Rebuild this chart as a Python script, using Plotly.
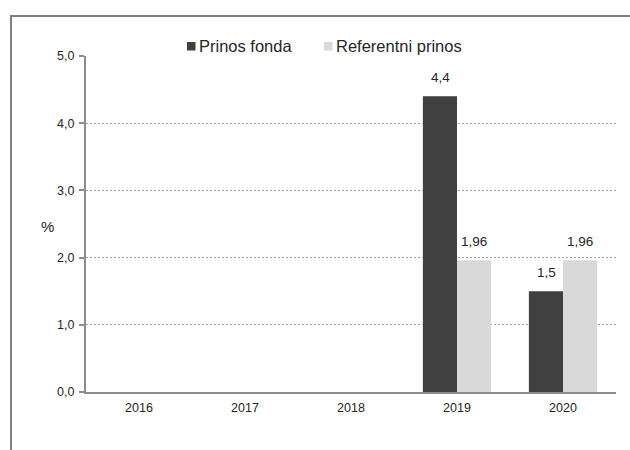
import plotly.graph_objects as go

years = ["2016", "2017", "2018", "2019", "2020"]
prinos_fonda = [None, None, None, 4.4, 1.5]
referentni_prinos = [None, None, None, 1.96, 1.96]
series_names = ["Prinos fonda", "Referentni prinos"]
series_colors = ["#404040", "#d9d9d9"]
y_ticks = [0, 1, 2, 3, 4, 5]

FONT = "Liberation Sans, Arial, sans-serif"
TXT = "#262626"

def lab(v):
    return str(v).replace(".", ",")

fig = go.Figure()
for name, vals, col in zip(series_names, [prinos_fonda, referentni_prinos], series_colors):
    fig.add_trace(go.Bar(x=years, y=vals, name=name,
                         marker=dict(color=col, line=dict(width=0)),
                         showlegend=False, hoverinfo="skip"))

L, R, T, B = 86, 14, 56, 58
W, H = 630, 450
pw, ph = W - L - R, H - T - B

def px(x):
    return (x - L) / pw

def py(y):
    return (H - B - y) / ph

fig.update_layout(
    width=W, height=H,
    margin=dict(l=L, r=R, t=T, b=B),
    paper_bgcolor="white", plot_bgcolor="white",
    separators=",.",
    barmode="group", bargap=0.356, bargroupgap=0,
    font=dict(family=FONT, size=12, color=TXT),
    showlegend=False,
)
fig.update_xaxes(type="category", categoryorder="array", categoryarray=years,
                 showgrid=False, showline=True, linecolor="#8c8c8c", linewidth=2,
                 ticks="", ticklabelstandoff=3,
                 tickfont=dict(size=12.5, family=FONT, color=TXT))
fig.update_yaxes(range=[0, 5], tickvals=y_ticks, tickformat=".1f",
                 showgrid=True, gridcolor="#a6a6a6", griddash="2px,2px", gridwidth=1,
                 showline=True, linecolor="#8c8c8c", linewidth=2,
                 ticks="outside", ticklen=5, tickcolor="#8c8c8c", tickwidth=2,
                 ticklabelstandoff=2,
                 tickfont=dict(size=12.5, family=FONT, color=TXT),
                 zeroline=False)

# data labels above bars (raised like in the reference); category axis uses serial index
offsets = [-17, 17]
for vals, dx in zip([prinos_fonda, referentni_prinos], offsets):
    for i, v in enumerate(vals):
        if v is None:
            continue
        fig.add_annotation(x=i, y=v, xref="x", yref="y", text=lab(v),
                           showarrow=False, xshift=dx, yshift=19, yanchor="middle",
                           font=dict(size=13.5, family=FONT, color=TXT))

# legend drawn at the top
leg_sq_x = [187, 324]
leg_tx_x = [197, 334]
for name, col, sx, tx in zip(series_names, series_colors, leg_sq_x, leg_tx_x):
    fig.add_shape(type="rect", xref="paper", yref="paper",
                  x0=px(sx), x1=px(sx + 8.5), y0=py(50.5), y1=py(42),
                  fillcolor=col, line=dict(width=0))
    fig.add_annotation(text=name, xref="paper", yref="paper", x=px(tx), y=py(45.5),
                       xanchor="left", yanchor="middle", showarrow=False,
                       font=dict(size=16.5, family=FONT, color=TXT))

fig.add_annotation(text="%", xref="paper", yref="paper", x=px(38.5), y=py(226),
                   showarrow=False, font=dict(size=15, family=FONT, color=TXT))

fig.add_shape(type="path", xref="paper", yref="paper",
              path=f"M {px(11)} {py(460)} L {px(11)} {py(16)} L {px(640)} {py(16)}",
              line=dict(color="#7f7f7f", width=2))

fig.write_html("out.html", config={"displayModeBar": False},
               post_script="document.body.style.margin='0px';")
